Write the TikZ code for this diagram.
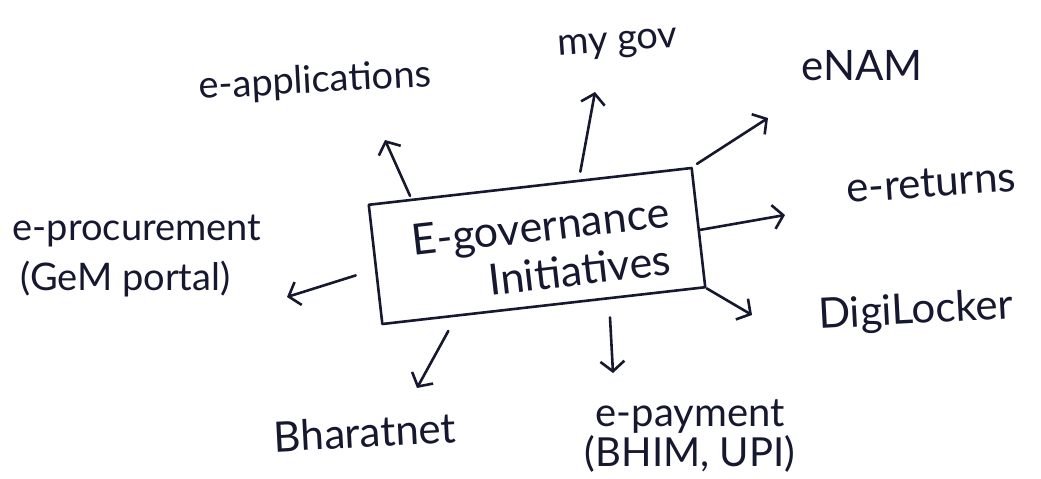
\documentclass[tikz,border=0pt]{standalone}
\usepackage{fontspec}
\setmainfont{Lato}
\usetikzlibrary{arrows.meta,calc}
\definecolor{ink}{RGB}{22,24,48}
\begin{document}
\begin{tikzpicture}[x=1pt,y=-1pt,
  inkline/.style={draw=ink, line width=2.6pt, line cap=round, line join=round},
  arr/.style={inkline, -{Straight Barb[length=10pt,width=24pt,line width=2.6pt]}},
  lbl/.style={text=ink, font=\fontsize{38}{42}\selectfont, inner sep=0pt},
  biglbl/.style={lbl, font=\fontsize{42}{42}\selectfont},
  hubbox/.style={inkline, rectangle, minimum width=325pt, minimum height=120pt, inner sep=0pt, rotate=6.5},
  hubtxt/.style={text=ink, font=\fontsize{43}{48}\selectfont, align=left, inner sep=0pt, rotate=6.5}]
\fill[white] (0,0) rectangle (1041,479);
\useasboundingbox (0,0) rectangle (1041,479);

% central box and its text
\node[hubbox] (hub) at (537,246) {};
\node[hubtxt] (hubtext) at (543,250) {E-governance\\\hspace*{72pt}Initiatives};

% surrounding initiatives
\node[lbl, rotate=3] (app) at (315,82) {e-applications};
\node[lbl, rotate=4] (gov) at (618,45) {my gov};
\node[biglbl] (enam) at (862,66) {eNAM};
\node[biglbl, rotate=4] (ret) at (931,183) {e-returns};
\node[biglbl, rotate=3] (digi) at (916,312) {DigiLocker};
\node[lbl, align=center, font=\fontsize{40}{40}\selectfont] (pay) at (690,436) {e-payment\\(BHIM, UPI)};
\node[biglbl, rotate=3] (bharat) at (365,432) {Bharatnet};
\node[lbl, align=left, font=\fontsize{38}{50}\selectfont] (proc) at (137,256) {e-procurement\\\hspace*{8pt}(GeM portal)};

% arrow tips
\coordinate (tApp) at (385,140);
\coordinate (tGov) at (595,92);
\coordinate (tNam) at (768,118);
\coordinate (tRet) at (785,215);
\coordinate (tDigi) at (752,315);
\coordinate (tPay) at (613,373);
\coordinate (tBha) at (417,388);
\coordinate (tProc) at (287,297);

% arrows from the box
\draw[arr, shorten <=3pt] ($(hub.north west)!0.135!(hub.north east)$) -- (tApp);
\draw[arr, shorten <=8pt] ($(hub.north west)!0.65!(hub.north east)$) -- (tGov);
\draw[arr, shorten <=5pt] (hub.north east) -- (tNam);
\draw[arr] ($(hub.north east)!0.52!(hub.south east)$) -- (tRet);
\draw[arr] (hub.south east) -- (tDigi);
\draw[arr, shorten <=18pt] ($(hub.south west)!0.70!(hub.south east)$) -- (tPay);
\draw[arr, shorten <=16pt] ($(hub.south west)!0.23!(hub.south east)$) -- (tBha);
\draw[arr, shorten <=20pt] ($(hub.north west)!0.54!(hub.south west)$) -- (tProc);
\end{tikzpicture}
\end{document}
